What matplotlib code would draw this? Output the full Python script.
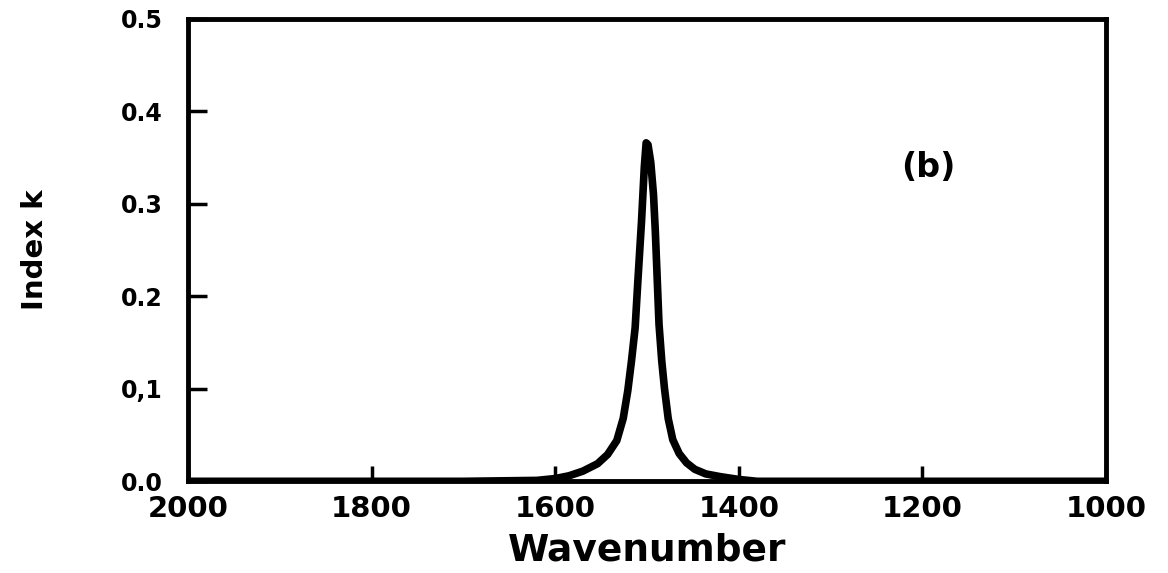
import numpy as np
import matplotlib.pyplot as plt

# points (wavenumber, index k)
wavenumber = [2000, 1700, 1620, 1600, 1585, 1570, 1554, 1543, 1533, 1526, 1521,
              1517, 1513, 1510, 1506, 1503, 1501, 1499, 1496, 1493, 1491, 1489,
              1487, 1484, 1481, 1477, 1472, 1465, 1457, 1448, 1436, 1420, 1400,
              1380, 1000]
index_k = [0.0, 0.0, 0.001, 0.003, 0.006, 0.011, 0.019, 0.029, 0.044, 0.068, 0.098,
           0.130, 0.166, 0.217, 0.282, 0.340, 0.366, 0.364, 0.345, 0.310, 0.270, 0.220,
           0.170, 0.130, 0.100, 0.068, 0.045, 0.030, 0.020, 0.013, 0.008, 0.005, 0.002,
           0.0, 0.0]

xticks = [2000, 1800, 1600, 1400, 1200, 1000]
yticks = [0.0, 0.1, 0.2, 0.3, 0.4, 0.5]
ylabels = ["0.0", "0,1", "0.2", "0.3", "0.4", "0.5"]

plt.rcParams['font.family'] = ['DejaVu Sans']
plt.rcParams['font.weight'] = 'bold'

fig = plt.figure(figsize=(11.68, 5.73), dpi=100)
ax = fig.add_axes([0.161, 0.16, 0.786, 0.807])

ax.plot(wavenumber, index_k, color='black', linewidth=5.5,
        solid_joinstyle='round', solid_capstyle='butt')

ax.set_xlim(2000, 1000)
ax.set_ylim(0, 0.5)
ax.set_xticks(xticks)
ax.set_yticks(yticks)
ax.set_yticklabels(ylabels)

for s in ax.spines.values():
    s.set_linewidth(3.5)

ax.tick_params(axis='y', direction='in', length=14, width=2.5, labelsize=17, pad=18)
ax.tick_params(axis='x', direction='in', length=11, width=2.5, labelsize=21, pad=10)
for lbl in ax.get_xticklabels() + ax.get_yticklabels():
    lbl.set_fontweight('bold')

ax.set_xlabel("Wavenumber", fontsize=27, fontweight='bold', labelpad=7)
ax.set_ylabel("Index k", fontsize=21, fontweight='bold', labelpad=52)
ax.text(1194, 0.339, "(b)", fontsize=24, fontweight='bold', ha='center', va='center')

fig.savefig("out.png", dpi=100)
